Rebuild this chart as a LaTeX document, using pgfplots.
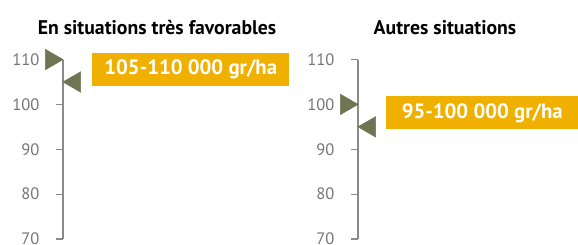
\documentclass[border=0pt]{standalone}
\usepackage{pgfplots}
\pgfplotsset{compat=1.18}
\usepackage{fontspec}
\setmainfont{PT Sans}
\definecolor{olivetri}{HTML}{6F7552}
\definecolor{gold}{HTML}{F0B000}
\definecolor{tickgray}{HTML}{757575}
\definecolor{axgray}{HTML}{8A8A8A}
\tikzset{
  lab/.style={fill=gold, text=white, font=\bfseries\fontsize{15.6}{17}\selectfont, inner sep=0pt, anchor=west, minimum height=24.75pt},
  ttl/.style={font=\bfseries\fontsize{14.8}{16}\selectfont, text=black}
}
\pgfplotsset{
  panel/.style={
    scale only axis, height=134.6pt,
    ymin=70, ymax=110, xmin=0,
    axis y line=left, axis x line=none,
    ytick={70,80,90,100,110},
    tick align=outside,
    major tick length=5.25pt,
    y axis line style={draw=axgray, line width=0.9pt, -},
    ytick style={draw=axgray, line width=0.9pt},
    yticklabel style={text=tickgray, font=\fontsize{12.4}{14}\selectfont, xshift=-9pt},
    /pgf/number format/assume math mode=true,
    clip=false,
    anchor=south west,
  },
  tri/.style={only marks, mark=triangle*, mark size=8.8pt, color=olivetri, mark options={rotate=#1, draw=olivetri, fill=olivetri}},
}
\begin{document}
\begin{tikzpicture}[x=1pt,y=1pt]
\clip (0,0) rectangle (433.5,183);
\path[use as bounding box] (0,0) rectangle (433.5,183);
\begin{axis}[panel, at={(47.25pt,3.75pt)}, width=169.5pt, xmax=226]
\addplot[tri=-90] coordinates {(-11.7,110)};
\addplot[tri=90] coordinates {(11.7,105)};
\node[lab, minimum width=147.75pt] at (axis cs:29,107.8) {105-110 000 gr/ha};
\node[ttl] at (axis cs:94,117.2) {En situations très favorables};
\end{axis}
\begin{axis}[panel, at={(268.5pt,3.75pt)}, width=165pt, xmax=220]
\addplot[tri=-90] coordinates {(-11.7,100)};
\addplot[tri=90] coordinates {(11.7,95)};
\node[lab, minimum width=144pt] at (axis cs:28,98.1) {95-100 000 gr/ha};
\node[ttl] at (axis cs:87,117.2) {Autres situations};
\end{axis}
\end{tikzpicture}
\end{document}
